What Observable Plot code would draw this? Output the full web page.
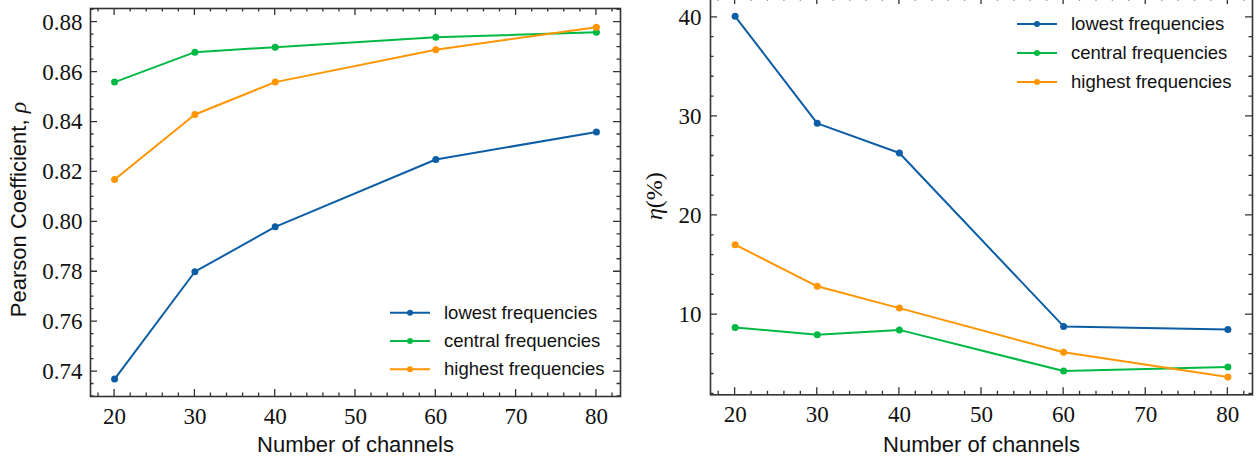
<!DOCTYPE html>
<html><head><meta charset="utf-8">
<script src="https://cdn.jsdelivr.net/npm/d3@7"></script>
<script src="https://cdn.jsdelivr.net/npm/@observablehq/plot@0.6"></script>
<style>
body{margin:0;background:#fff}
#wrap{position:relative;width:1258px;height:459px;overflow:hidden;background:#fff}
#left,#right{position:absolute}
#left{left:0;top:0}
#right{left:629px;top:-3px}
</style></head>
<body><div id="wrap"><div id="left"></div><div id="right"></div></div>
<script>
// ---- data ----
const channels = [20, 30, 40, 60, 80];
const seriesNames = ["lowest frequencies", "central frequencies", "highest frequencies"];
const seriesColors = ["#0C5DA5", "#00B945", "#FF9500"];
const rhoLowest  = [0.737, 0.780, 0.798, 0.825, 0.836];
const rhoCentral = [0.856, 0.868, 0.870, 0.874, 0.876];
const rhoHighest = [0.817, 0.843, 0.856, 0.869, 0.878];
const etaLowest  = [40.1, 29.3, 26.3, 8.8, 8.5];
const etaCentral = [8.7, 7.95, 8.45, 4.3, 4.7];
const etaHighest = [17.05, 12.85, 10.65, 6.2, 3.7];
const xTicks   = [20, 30, 40, 50, 60, 70, 80];
const rhoTicks = [0.74, 0.76, 0.78, 0.80, 0.82, 0.84, 0.86, 0.88];
const etaTicks = [10, 20, 30, 40];
const xLabel = "Number of channels";
const rhoLabel = "Pearson Coefficient, ";
const etaLabel = "(%)";

const SERIF = "Liberation Serif";
const SANS = "Liberation Sans";

function table(lists) {
  const rows = [];
  lists.forEach((vals, si) => channels.forEach((c, i) => rows.push({ch: c, v: vals[i], s: seriesNames[si]})));
  return rows;
}

// inward ticks on all four sides
function inwardTicks(xMajor, xMinor, yMajor, yMinor) {
  return (index, scales, values, dims) => {
    const {x, y} = scales;
    const L = dims.marginLeft, R = dims.width - dims.marginRight, T = dims.marginTop, B = dims.height - dims.marginBottom;
    const maj = 7, min = 3.5;
    let d = "";
    for (const v of xMajor) { const p = x(v); d += `M${p},${B}v${-maj}M${p},${T}v${maj}`; }
    for (const v of xMinor) { const p = x(v); d += `M${p},${B}v${-min}M${p},${T}v${min}`; }
    for (const v of yMajor) { const p = y(v); d += `M${L},${p}h${maj}M${R},${p}h${-maj}`; }
    for (const v of yMinor) { const p = y(v); d += `M${L},${p}h${min}M${R},${p}h${-min}`; }
    const g = d3.create("svg:g");
    g.append("path").attr("d", d).attr("fill", "none").attr("stroke", "#333").attr("stroke-width", 1.3);
    return g.node();
  };
}

// legend drawn inside the frame
function legend(anchor, rowOffsets, rightOffset) {
  return (index, scales, values, dims) => {
    const R = dims.width - dims.marginRight, T = dims.marginTop, B = dims.height - dims.marginBottom;
    const g = d3.create("svg:g");
    seriesNames.forEach((name, i) => {
      const yy = anchor === "top" ? T + rowOffsets[i] : B - rowOffsets[i];
      const x0 = R - rightOffset;
      g.append("line").attr("x1", x0).attr("x2", x0 + 40).attr("y1", yy).attr("y2", yy)
        .attr("stroke", scales.color(name)).attr("stroke-width", 2);
      g.append("circle").attr("cx", x0 + 20).attr("cy", yy).attr("r", 3).attr("fill", scales.color(name));
      g.append("text").attr("x", x0 + 54).attr("y", yy).attr("dy", "0.32em")
        .attr("text-anchor", "start")
        .attr("font-family", SANS).attr("font-size", 18.5).attr("fill", "#111").text(name);
    });
    return g.node();
  };
}

function minorRange(lo, hi, step, majors) {
  return d3.range(Math.ceil(lo / step) * step, hi + 1e-9, step)
    .map(v => +v.toFixed(6))
    .filter(v => !majors.some(m => Math.abs(m - v) < 1e-9));
}
const xMinor = minorRange(17, 83, 2, xTicks);

const colorOpt = {domain: seriesNames, range: seriesColors};

function tickLabelsX(dy) {
  return Plot.text(xTicks, {x: d => d, text: d => String(d), frameAnchor: "bottom", lineAnchor: "middle",
    textAnchor: "middle", dy, fontFamily: SERIF, fontSize: 23, fill: "#111"});
}
function tickLabelsY(ticks, fmt, dx) {
  return Plot.text(ticks, {y: d => d, text: fmt, frameAnchor: "left", lineAnchor: "middle",
    textAnchor: "end", dx, fontFamily: SERIF, fontSize: 23, fill: "#111"});
}

// ---- left panel ----
const rhoDomain = [0.7300, 0.8855];
const leftData = table([rhoLowest, rhoCentral, rhoHighest]);
const left = Plot.plot({
  width: 629, height: 459,
  marginLeft: 90, marginRight: 9, marginTop: 8, marginBottom: 63,
  x: {domain: [17, 83], axis: null},
  y: {domain: rhoDomain, axis: null},
  color: colorOpt,
  style: {background: "#fff", color: "#111"},
  marks: [
    Plot.line(leftData, {x: "ch", y: "v", stroke: "s", z: "s", strokeWidth: 2}),
    Plot.dot(leftData, {x: "ch", y: "v", fill: "s", r: 3.5}),
    Plot.frame({stroke: "#333", strokeWidth: 1.6}),
    inwardTicks(xTicks, xMinor, rhoTicks, minorRange(0.730, 0.8855, 0.005, rhoTicks)),
    tickLabelsX(19.9),
    tickLabelsY(rhoTicks, d => d.toFixed(2), -8),
    Plot.text([xLabel], {frameAnchor: "bottom", lineAnchor: "middle", textAnchor: "middle", dy: 48.7, fontSize: 22, fontFamily: SANS, fill: "#111", text: d => d}),
    Plot.text([rhoLabel], {frameAnchor: "left", lineAnchor: "middle", textAnchor: "middle", dx: -72, dy: 7, rotate: -90, fontSize: 22, fontFamily: SANS, fill: "#111", text: d => d, className: "rholabel"}),
    legend("bottom", [83.3, 55, 26.7], 230)
  ]
});
document.getElementById("left").append(left);

// ---- right panel ----
const etaDomain = [1.9, 42.0];
const rightData = table([etaLowest, etaCentral, etaHighest]);
const right = Plot.plot({
  width: 629, height: 462,
  marginLeft: 81, marginRight: 6, marginTop: 0, marginBottom: 64.7,
  x: {domain: [17, 83], axis: null},
  y: {domain: etaDomain, axis: null},
  color: colorOpt,
  style: {background: "#fff", color: "#111"},
  marks: [
    Plot.line(rightData, {x: "ch", y: "v", stroke: "s", z: "s", strokeWidth: 2}),
    Plot.dot(rightData, {x: "ch", y: "v", fill: "s", r: 3.5}),
    Plot.frame({stroke: "#333", strokeWidth: 1.6}),
    inwardTicks(xTicks, xMinor, etaTicks, minorRange(1.9, 42, 2, etaTicks)),
    tickLabelsX(20),
    tickLabelsY(etaTicks, d => String(d), -9),
    Plot.text([xLabel], {frameAnchor: "bottom", lineAnchor: "middle", textAnchor: "middle", dy: 50.4, fontSize: 22, fontFamily: SANS, fill: "#111", text: d => d}),
    Plot.text([etaLabel], {frameAnchor: "left", lineAnchor: "middle", textAnchor: "middle", dx: -56, rotate: -90, fontSize: 24, fontFamily: SERIF, fill: "#111", text: d => d, className: "etalabel"}),
    legend("top", [27, 56, 85], 235)
  ]
});
document.getElementById("right").append(right);

// math symbols in italic serif, as in the reference
d3.select(left).selectAll(".rholabel text").each(function() {
  d3.select(this).append("tspan").attr("font-family", SERIF).attr("font-style", "italic").attr("font-size", 24).text("ρ");
});
d3.select(right).selectAll(".etalabel text").each(function() {
  const t = d3.select(this); const rest = t.text(); t.text("");
  t.append("tspan").attr("font-style", "italic").text("η");
  t.append("tspan").text(rest);
});
</script>
</body></html>
